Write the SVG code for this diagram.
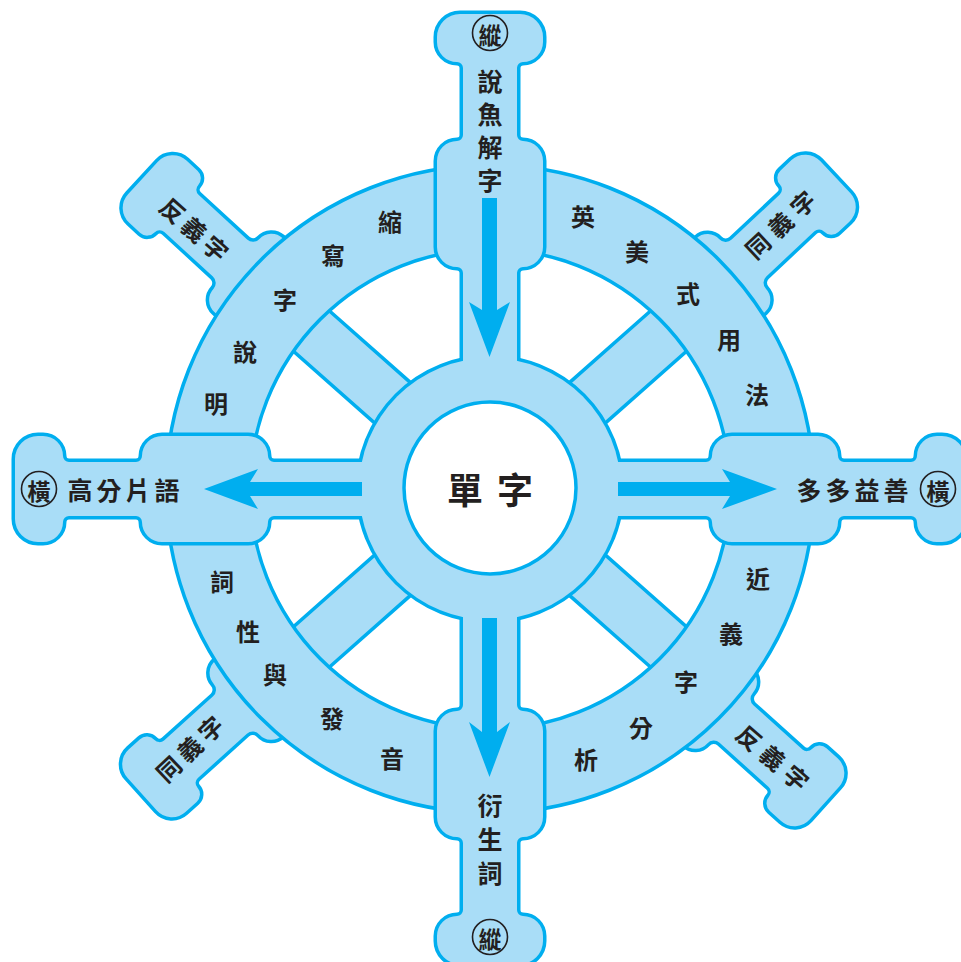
<svg xmlns="http://www.w3.org/2000/svg" width="961" height="962" viewBox="0 0 961 962">
<defs>
<style>
.lb{fill:#a9ddf7;stroke:#00aeef;stroke-width:3.5}
.us{fill:none;stroke:#00aeef;stroke-width:7}
.uf{fill:#a9ddf7;stroke:none}
.arrow{fill:#00aeef}
.t{font-family:"Noto Sans CJK TC","Noto Sans CJK JP","Noto Sans CJK SC",sans-serif;font-weight:700;fill:#231f20;text-anchor:middle;dominant-baseline:central}
.rim{font-size:24px}
.arm{font-size:25px}
.dia{font-size:24px}
.ctr{font-size:36px}
.circ{font-size:23px}
.ring{fill:none;stroke:#231f20;stroke-width:1.6}
</style>
<path id="oarm" d="M -27,-110 L -27,-216 A 6 6 0 0 0 -33,-222 A 20 20 0 0 1 -53,-242 L -53,-328 A 20 20 0 0 1 -33,-348 A 6 6 0 0 0 -27,-354 L -27,-421 A 6 6 0 0 0 -33,-427 A 20 20 0 0 1 -53,-447 L -53,-452 A 23 23 0 0 1 -30,-475 L 30,-475 A 23 23 0 0 1 53,-452 L 53,-447 A 20 20 0 0 1 33,-427 A 6 6 0 0 0 27,-421 L 27,-354 A 6 6 0 0 0 33,-348 A 20 20 0 0 1 53,-328 L 53,-242 A 20 20 0 0 1 33,-222 A 6 6 0 0 0 27,-216 L 27,-110 Z"/>
<path id="darm" d="M -67,-52 L -25,-52 A 18 18 0 0 1 -7,-34 A 7 7 0 0 0 0,-27 L 66,-27 A 5 5 0 0 0 71,-32 A 12 12 0 0 1 83,-44 L 98,-44 A 22 22 0 0 1 120,-22 L 120,22 A 22 22 0 0 1 98,44 L 83,44 A 12 12 0 0 1 71,32 A 5 5 0 0 0 66,27 L 0,27 A 7 7 0 0 0 -7,34 A 18 18 0 0 1 -25,52 L -67,52 Z"/>
<rect id="spoke" x="120" y="-27" width="130" height="54"/>
<circle id="hubc" cx="0" cy="0" r="131"/>
</defs>

<g id="spokes">
<use href="#spoke" class="lb" transform="translate(490,489) rotate(-138.5)"/>
<use href="#spoke" class="lb" transform="translate(490,489) rotate(-41.5)"/>
<use href="#spoke" class="lb" transform="translate(490,489) rotate(41.5)"/>
<use href="#spoke" class="lb" transform="translate(490,489) rotate(138.5)"/>
</g>

<g id="diag-arm-tl"><use href="#darm" class="lb" transform="translate(230,258) rotate(-137.4)"/></g>
<g id="diag-arm-tr"><use href="#darm" class="lb" transform="translate(749,258) rotate(-43.2)"/></g>
<g id="diag-arm-bl"><use href="#darm" class="lb" transform="translate(230,715) rotate(138)"/></g>
<g id="diag-arm-br"><use href="#darm" class="lb" transform="translate(736.5,724) rotate(42)"/></g>

<g id="rim">
<path class="lb" fill-rule="evenodd" d="M 166,489 A 324 324 0 1 0 814,489 A 324 324 0 1 0 166,489 Z M 250,489 A 240 240 0 1 0 730,489 A 240 240 0 1 0 250,489 Z"/>
</g>

<g id="cross" transform="translate(490,489)">
<g class="us">
<use href="#hubc"/>
<use href="#oarm"/>
<use href="#oarm" transform="rotate(90)"/>
<use href="#oarm" transform="rotate(180)"/>
<use href="#oarm" transform="rotate(-90)"/>
</g>
<g class="uf">
<use href="#hubc"/>
<use href="#oarm"/>
<use href="#oarm" transform="rotate(90)"/>
<use href="#oarm" transform="rotate(180)"/>
<use href="#oarm" transform="rotate(-90)"/>
</g>
</g>

<g id="center-node">
<circle cx="490" cy="488" r="86" fill="#ffffff" stroke="#00aeef" stroke-width="3.5"/>
<text class="t ctr" x="465" y="488">單</text>
<text class="t ctr" x="515" y="488">字</text>
</g>

<g id="connectors">
<path class="arrow" d="M482,198 H497 V310 L510,302 L489.5,357 L469,302 L482,310 Z"/>
<path class="arrow" d="M482,618 H497 V732 L510,722 L489.5,777 L469,722 L482,732 Z"/>
<path class="arrow" d="M362,482 V496 H250 L258,509 L204,489 L258,469 L250,482 Z"/>
<path class="arrow" d="M618,482 V496 H730 L722,509 L777,489 L722,469 L730,482 Z"/>
</g>

<g id="node-top">
<circle class="ring" cx="490" cy="33" r="17.5"/>
<text class="t circ" x="490" y="33.5">縱</text>
<text class="t arm" x="490" y="80">說</text>
<text class="t arm" x="490" y="113">魚</text>
<text class="t arm" x="490" y="146">解</text>
<text class="t arm" x="490" y="179">字</text>
</g>
<g id="node-bottom">
<text class="t arm" x="490" y="804">衍</text>
<text class="t arm" x="490" y="838">生</text>
<text class="t arm" x="490" y="872">詞</text>
<circle class="ring" cx="490" cy="937" r="17.5"/>
<text class="t circ" x="490" y="937.5">縱</text>
</g>
<g id="node-left">
<circle class="ring" cx="39" cy="489" r="17.5"/>
<text class="t circ" x="39" y="489.5">橫</text>
<text class="t arm" x="80" y="489">高</text>
<text class="t arm" x="109" y="489">分</text>
<text class="t arm" x="138" y="489">片</text>
<text class="t arm" x="167" y="489">語</text>
</g>
<g id="node-right">
<text class="t arm" x="809" y="489">多</text>
<text class="t arm" x="838" y="489">多</text>
<text class="t arm" x="867" y="489">益</text>
<text class="t arm" x="896" y="489">善</text>
<circle class="ring" cx="938" cy="489" r="17.5"/>
<text class="t circ" x="938" y="489.5">橫</text>
</g>

<g id="rim-tl">
<text class="t rim" x="390" y="220">縮</text>
<text class="t rim" x="333" y="254">寫</text>
<text class="t rim" x="285" y="298">字</text>
<text class="t rim" x="245" y="350">說</text>
<text class="t rim" x="216" y="402">明</text>
</g>
<g id="rim-tr">
<text class="t rim" x="583" y="215">英</text>
<text class="t rim" x="637" y="250">美</text>
<text class="t rim" x="688" y="292">式</text>
<text class="t rim" x="729" y="338">用</text>
<text class="t rim" x="757" y="393">法</text>
</g>
<g id="rim-br">
<text class="t rim" x="758" y="577">近</text>
<text class="t rim" x="731" y="632">義</text>
<text class="t rim" x="686" y="680">字</text>
<text class="t rim" x="641" y="726">分</text>
<text class="t rim" x="586" y="758">析</text>
</g>
<g id="rim-bl">
<text class="t rim" x="222" y="580">詞</text>
<text class="t rim" x="248" y="630">性</text>
<text class="t rim" x="275" y="673">與</text>
<text class="t rim" x="332" y="717">發</text>
<text class="t rim" x="392" y="757">音</text>
</g>

<g id="diag-label-tl">
<text class="t dia" transform="translate(173.5,209.5) rotate(41.5)">反</text>
<text class="t dia" transform="translate(195,228.5) rotate(41.5)">義</text>
<text class="t dia" transform="translate(216.5,247.5) rotate(41.5)">字</text>
</g>
<g id="diag-label-tr">
<text class="t dia" transform="translate(757,245) rotate(-43)">同</text>
<text class="t dia" transform="translate(779.5,224) rotate(-43)">義</text>
<text class="t dia" transform="translate(802,203) rotate(-43)">字</text>
</g>
<g id="diag-label-br">
<text class="t dia" transform="translate(750,737) rotate(41)">反</text>
<text class="t dia" transform="translate(773.5,757) rotate(41)">義</text>
<text class="t dia" transform="translate(797,777) rotate(41)">字</text>
</g>
<g id="diag-label-bl">
<text class="t dia" transform="translate(168,768) rotate(-43.5)">同</text>
<text class="t dia" transform="translate(189,748) rotate(-43.5)">義</text>
<text class="t dia" transform="translate(210,728) rotate(-43.5)">字</text>
</g>
</svg>
